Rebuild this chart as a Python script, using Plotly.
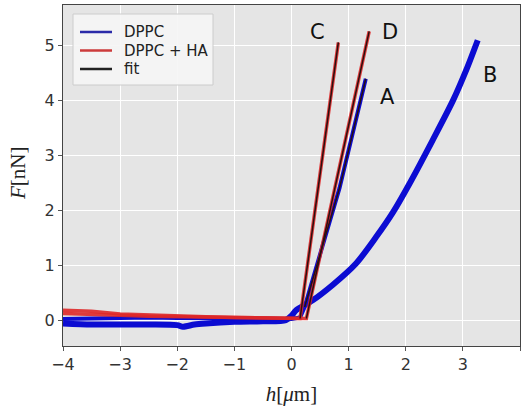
import plotly.graph_objects as go

# Force-distance curves: F in nN against h in micrometres
# DPPC curves A and B (blue), DPPC + HA curves C and D (red), linear fits (black)

a_h = [-4.0, -3.5, -3.0, -2.5, -2.0, -1.5, -1.0, -0.5, 0.0, 0.15, 0.23, 0.5, 0.84, 1.3]
a_f = [0.02, 0.03, 0.04, 0.05, 0.04, 0.04, 0.03, 0.03, 0.02, 0.05, 0.24, 1.2, 2.4, 4.39]

b_h = [-4.0, -3.5, -3.0, -2.5, -2.0, -1.9, -1.7, -1.5, -1.0, -0.5, -0.1, 0.0, 0.08, 0.37, 0.72,
       1.13, 1.48, 1.77, 2.07, 2.47, 2.83, 3.06, 3.26]
b_f = [-0.06, -0.08, -0.08, -0.08, -0.09, -0.12, -0.08, -0.06, -0.03, -0.02, 0.0, 0.08, 0.18, 0.36, 0.64,
       1.03, 1.51, 1.95, 2.49, 3.27, 4.0, 4.55, 5.09]

c_h = [-4.0, -3.5, -3.0, -2.5, -2.0, -1.5, -1.0, -0.5, 0.0, 0.15, 0.46, 0.82]
c_f = [0.18, 0.16, 0.11, 0.09, 0.07, 0.06, 0.05, 0.04, 0.02, 0.03, 2.36, 5.05]

d_h = [-4.0, -3.5, -3.0, -2.5, -2.0, -1.5, -1.0, -0.5, 0.0, 0.26, 0.75, 1.36]
d_f = [0.12, 0.11, 0.09, 0.07, 0.06, 0.05, 0.04, 0.03, 0.03, 0.03, 2.36, 5.25]

# fitted contact regions
fit_a_h = [0.23, 0.5, 0.84, 1.3]
fit_a_f = [0.24, 1.2, 2.4, 4.39]
fit_c_h = [0.15, 0.82]
fit_c_f = [0.03, 5.05]
fit_d_h = [0.26, 1.36]
fit_d_f = [0.03, 5.25]

curve_labels = ["A", "B", "C", "D"]
label_h = [1.68, 3.47, 0.46, 1.72]
label_f = [4.05, 4.45, 5.24, 5.24]

legend_names = ["DPPC", "DPPC + HA", "fit"]
legend_colors = ["#2a2aa8", "#cc3b3b", "#222222"]

x_ticks = [-4, -3, -2, -1, 0, 1, 2, 3, 4]
x_tick_text = ["\u22124", "\u22123", "\u22122", "\u22121", "0", "1", "2", "3", "4"]
y_ticks = [0, 1, 2, 3, 4, 5]

BLUE = "#0c0cd2"
RED = "rgba(222,40,40,0.9)"
BLACK = "#2a1010"

fig = go.Figure()

fig.add_trace(go.Scatter(x=b_h, y=b_f, mode="lines", name="DPPC",
                         line=dict(color=BLUE, width=6, shape="spline", smoothing=0.8)))
fig.add_trace(go.Scatter(x=a_h, y=a_f, mode="lines", name="DPPC",
                         line=dict(color=BLUE, width=4)))
fig.add_trace(go.Scatter(x=c_h, y=c_f, mode="lines", name="DPPC + HA",
                         line=dict(color=RED, width=3.5)))
fig.add_trace(go.Scatter(x=d_h, y=d_f, mode="lines", name="DPPC + HA",
                         line=dict(color=RED, width=3.5)))
for fh, ff in [(fit_a_h, fit_a_f), (fit_c_h, fit_c_f), (fit_d_h, fit_d_f)]:
    fig.add_trace(go.Scatter(x=fh, y=ff, mode="lines", name="fit",
                             line=dict(color=BLACK, width=1.5)))

for lab, lx, ly in zip(curve_labels, label_h, label_f):
    fig.add_annotation(x=lx, y=ly, text=lab, showarrow=False,
                       font=dict(family="DejaVu Sans", size=21, color="#111111"))

# legend box drawn in the upper-left corner of the axes
plot_l, plot_t, plot_w, plot_h = 63, 5, 457, 341


def px_x(p):
    return (p - plot_l) / plot_w


def px_y(p):
    return 1 - (p - plot_t) / plot_h


fig.add_shape(type="rect", xref="paper", yref="paper",
              x0=px_x(73), x1=px_x(213), y0=px_y(85), y1=px_y(14),
              fillcolor="rgba(245,245,245,0.92)", line=dict(color="#cccccc", width=1))
for i, (nm, col) in enumerate(zip(legend_names, legend_colors)):
    row = 32 + i * 18.5
    fig.add_shape(type="line", xref="paper", yref="paper",
                  x0=px_x(80), x1=px_x(112), y0=px_y(row), y1=px_y(row),
                  line=dict(color=col, width=2.5))
    fig.add_annotation(xref="paper", yref="paper", x=px_x(122), y=px_y(row),
                       xanchor="left", yanchor="middle", text=nm, showarrow=False,
                       font=dict(family="DejaVu Sans", size=15, color="#222222"))

# y-axis title placed beside the tick labels
fig.add_annotation(xref="paper", yref="paper", x=px_x(18), y=px_y(174),
                   xanchor="center", yanchor="middle", textangle=-90,
                   text="<i>F</i>[nN]", showarrow=False,
                   font=dict(family="Liberation Serif", size=21, color="#222222"))

axis_common = dict(
    showgrid=True, gridcolor="white", gridwidth=1.3,
    zeroline=False, showline=True, linecolor="#444444", linewidth=1.3, mirror=True,
    ticks="outside", ticklen=4, tickcolor="#555555", tickwidth=1.2,
    tickfont=dict(family="DejaVu Sans", size=16, color="#333333"),
)

fig.update_layout(
    width=522, height=410,
    margin=dict(l=plot_l, r=2, t=plot_t, b=64),
    paper_bgcolor="white", plot_bgcolor="#e5e5e5",
    showlegend=False,
    xaxis=dict(range=[-4, 4], tickvals=x_ticks, ticktext=x_tick_text,
               title=dict(text="<i>h</i>[<i>\u03bc</i>m]", standoff=12,
                          font=dict(family="Liberation Serif", size=21, color="#222222")),
               **axis_common),
    yaxis=dict(range=[-0.47, 5.73], tickvals=y_ticks, automargin=False,
               **axis_common),
)

fig.write_html("out.html")
